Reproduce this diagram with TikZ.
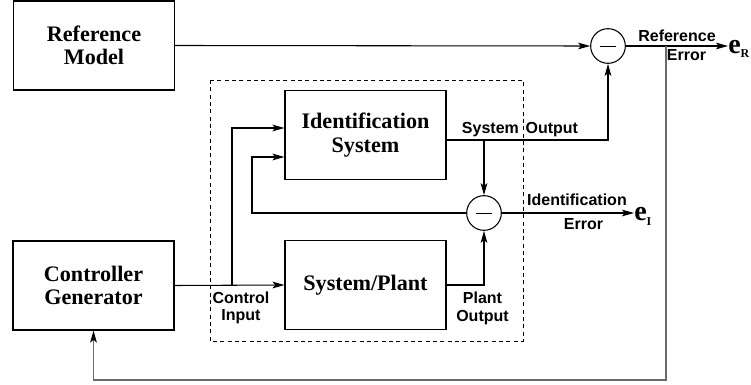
\documentclass[tikz,border=0pt]{standalone}
\usepackage{fontspec}
\setmainfont{Liberation Serif}
\setsansfont{Liberation Sans}
\usetikzlibrary{arrows.meta,positioning}
\definecolor{fbgray}{RGB}{107,107,107}
\tikzset{
  block/.style={draw,line width=0.8pt,minimum width=120.75pt,minimum height=66.75pt,
    align=center,font=\fontsize{16.6}{17.5}\selectfont\bfseries},
  sumnode/.style={draw,circle,line width=0.8pt,minimum size=26pt,inner sep=0pt},
  sig/.style={line width=0.8pt,-{Stealth[length=9pt,width=5pt,inset=2pt]}},
  fb/.style={line width=1.2pt,color=fbgray,-{Stealth[length=9pt,width=5pt,inset=2pt,color=black]}},
  lbl/.style={font=\sffamily\bfseries\fontsize{12}{13}\selectfont,align=center,inner sep=0pt},
  errsym/.style={anchor=base west,inner sep=0pt},
}
\begin{document}
\begin{tikzpicture}[x=0.75pt,y=-0.75pt]
\useasboundingbox (0,0) rectangle (751,385);
% identification part
\draw[line width=0.6pt,dash pattern=on 3pt off 2.5pt] (210,80) rectangle (523,341);

\node[block] (refm) at (94,45.5) {Reference\\Model};
\node[block] (ctrl) at (93.5,285.5) {Controller\\Generator};
\node[block] (idsys) at (365.5,135) {Identification\\System};
\node[block] (plant) at (365.5,285) {System/Plant};
\node[sumnode] (sumR) at (608,46) {\rule{12pt}{0.6pt}};
\node[sumnode] (sumI) at (484,213) {\rule{12pt}{0.6pt}};
\node[errsym] (eR) at (728,54) {{\fontsize{21}{21}\selectfont\bfseries e}{\fontsize{9}{9}\selectfont\bfseries\raisebox{-3pt}{R}}};
\node[errsym] (eI) at (634,221) {{\fontsize{21}{21}\selectfont\bfseries e}{\fontsize{9}{9}\selectfont\bfseries\raisebox{-3pt}{I}}};

\coordinate (split) at (232,285.5);
\coordinate (fbI) at (252,213);
\coordinate (brI) at (484,140);
\coordinate (brk) at (666,46);
\coordinate (bot) at (666,380);

\draw[sig] (refm.east) -- (sumR.west);
\draw[sig] (sumR.east) -- (sumR -| eR.west);
\draw[fb] (brk) -- (bot) -| (ctrl.south);
\draw[sig] (ctrl.east) -- (plant.west);
\draw[sig] (split) |- ([yshift=5.25pt]idsys.west);
\draw[sig] (sumI.west) -- (fbI) |- ([yshift=-16.5pt]idsys.west);
\draw[sig] ([yshift=-3.75pt]idsys.east) -| (sumR.south);
\draw[sig] (brI) -- (sumI.north);
\draw[sig] (plant.east) -| (sumI.south);
\draw[sig] (sumI.east) -- (sumI -| eI.west);

\node[lbl] (refErrA) at (677,35.5) {Reference};
\node[lbl] (refErrB) at (686.5,55) {Error};
\node[lbl] (sysOut) at (520,130) {System\hspace{5pt}Output};
\node[lbl] (idErrA) at (577,200) {Identification};
\node[lbl] (idErrB) at (583.5,224) {Error};
\node[lbl] (ctrlIn) at (241,308) {Control\\Input};
\node[lbl] (plantOut) at (482.5,308.5) {Plant\\Output};
\end{tikzpicture}
\end{document}
